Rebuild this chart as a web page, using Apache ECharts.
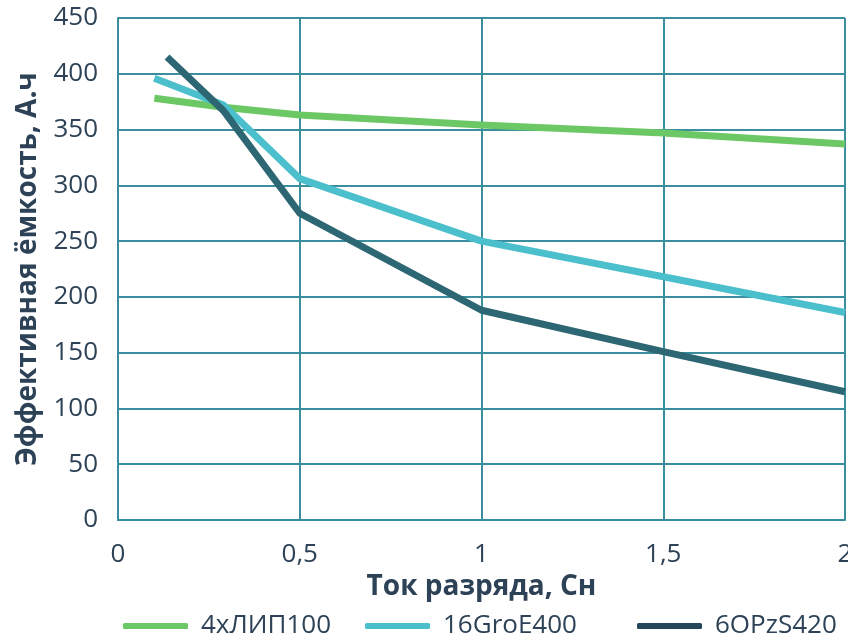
<!DOCTYPE html>
<html><head><meta charset="utf-8">
<script src="https://cdn.jsdelivr.net/npm/echarts@6/dist/echarts.min.js"></script>
<style>html,body{margin:0;padding:0;background:#fff}#c{width:848px;height:641px}</style>
</head><body><div id="c"></div>
<script>
const seriesNames = ['4хЛИП100', '16GroE400', '6OPzS420'];
const xLip = [0.1, 0.29, 0.5, 1, 1.5, 2];
const yLip = [378, 370, 363, 354, 347, 337];
const xGro = [0.1, 0.29, 0.5, 1, 1.5, 2];
const yGro = [396, 372, 306, 250, 218, 186];
const xOpz = [0.135, 0.29, 0.5, 1, 1.5, 2];
const yOpz = [415, 367, 275, 188, 151, 115];
const xTicks = [0, 0.5, 1, 1.5, 2];
const yTicks = [0, 50, 100, 150, 200, 250, 300, 350, 400, 450];

const colors = ['#6cc865', '#4bbfcc', '#2e6774'];
const legendColors = ['#6cc865', '#4bbfcc', '#26465a'];
const txt = '#2d4256';
const gridCol = '#3b8e9d';
const font = 'Open Sans';

function pairs(xs, ys){ return xs.map((x,i)=>[x, ys[i]]); }
const dataSets = [pairs(xLip,yLip), pairs(xGro,yGro), pairs(xOpz,yOpz)];

const legendLefts = [123, 365, 637];
const chart = echarts.init(document.getElementById('c'), null, {renderer:'canvas'});
chart.setOption({
  animation:false,
  textStyle:{fontFamily:font},
  grid:{left:118, right:3, top:18, bottom:121, containLabel:false, outerBoundsMode:'none'},
  legend: seriesNames.map((n,i)=>({
    left: legendLefts[i], top: 613, orient:'horizontal',
    data:[{name:n, itemStyle:{color:legendColors[i]}}],
    icon:'roundRect', itemWidth:65, itemHeight:6, itemGap:12,
    textStyle:{fontFamily:font, fontSize:26, color:txt, padding:[0,0,0,8]},
    padding:0
  })),
  xAxis:{
    type:'value', min:0, max:2, interval:0.5,
    name:'Ток разряда, Сн', nameLocation:'middle', nameGap:53,
    nameTextStyle:{fontFamily:font, fontSize:28, fontWeight:'bold', color:txt},
    axisLine:{show:true, lineStyle:{color:gridCol, width:2}},
    axisTick:{show:false},
    axisLabel:{fontFamily:font, fontSize:26, color:txt, margin:22,
      formatter:v=>{ const i = xTicks.indexOf(v); return i>=0 ? String(xTicks[i]).replace('.',',') : ''; }},
    splitLine:{show:true, lineStyle:{color:gridCol, width:2}}
  },
  yAxis:{
    type:'value', min:0, max:450, interval:50,
    name:'Эффективная ёмкость, А.ч', nameLocation:'middle', nameGap:67, nameRotate:90,
    nameTextStyle:{fontFamily:font, fontSize:28, fontWeight:'bold', color:txt},
    axisLine:{show:true, lineStyle:{color:gridCol, width:2}},
    axisTick:{show:false},
    axisLabel:{fontFamily:font, fontSize:26, color:txt, margin:20,
      formatter:v=> yTicks.indexOf(v)>=0 ? String(v) : ''},
    splitLine:{show:true, lineStyle:{color:gridCol, width:2}}
  },
  series: seriesNames.map((n,i)=>({
    name:n, type:'line', data:dataSets[i], showSymbol:false, symbol:'none',
    lineStyle:{color:colors[i], width:7, cap:'butt', join:'round'},
    itemStyle:{color:colors[i]}, z:3+i
  }))
});
</script></body></html>
